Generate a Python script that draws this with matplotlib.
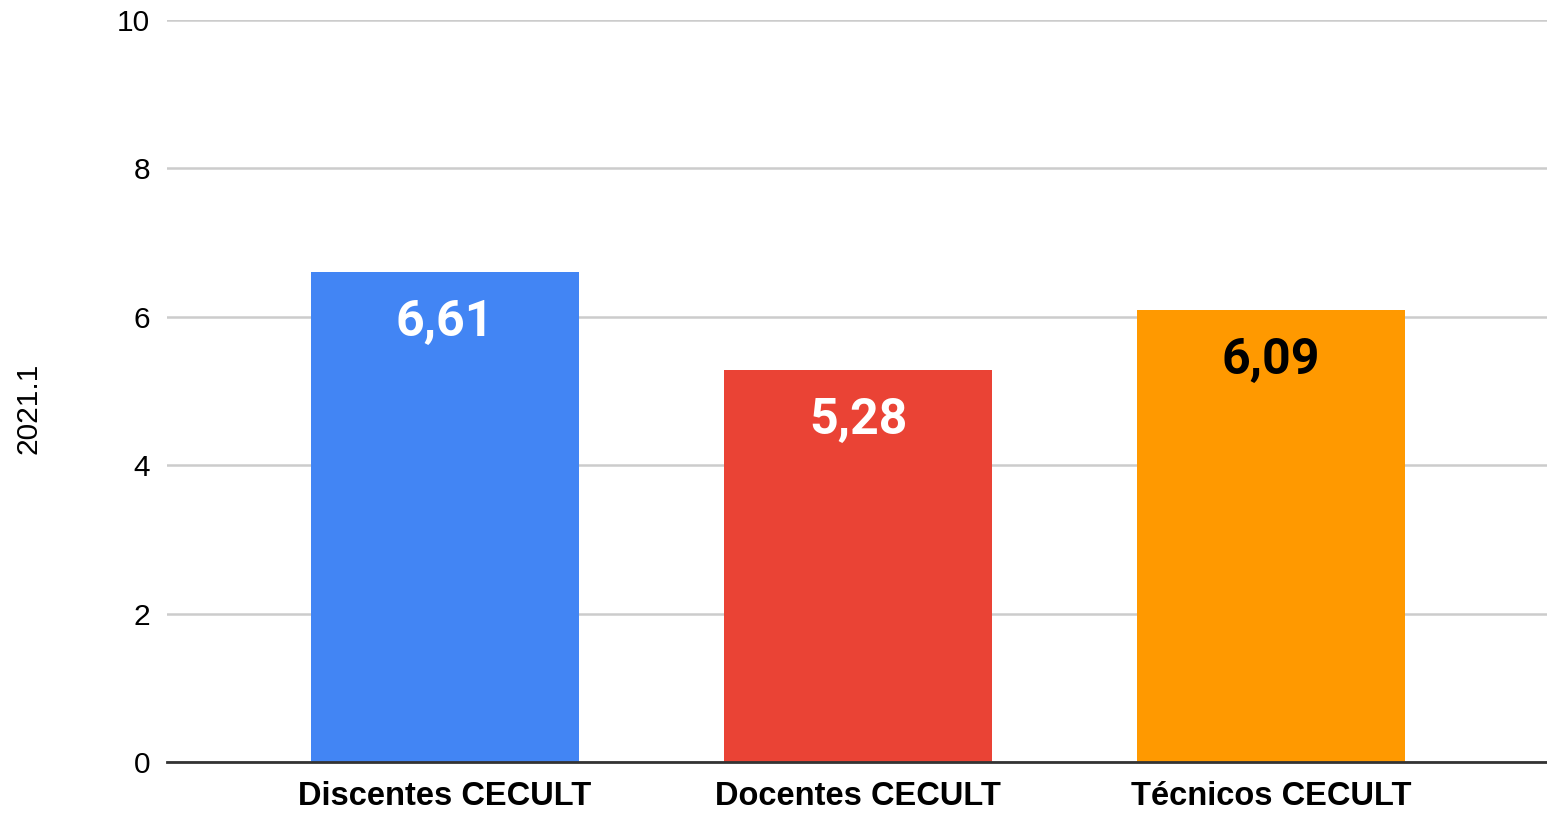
import matplotlib.pyplot as plt

# Chart data
categories = ["Discentes CECULT", "Docentes CECULT", "Técnicos CECULT"]
values = [6.61, 5.28, 6.09]
value_labels = ["6,61", "5,28", "6,09"]
bar_colors = ["#4285F4", "#EA4335", "#FF9900"]
label_colors = ["white", "white", "black"]
y_ticks = [0, 2, 4, 6, 8, 10]
y_label = "2021.1"

fig = plt.figure(figsize=(15.47, 8.13), dpi=100)
ax = fig.add_axes([167 / 1547, 51 / 813, 1380 / 1547, 742 / 813])

x = range(len(categories))
bars = ax.bar(x, values, width=0.65, color=bar_colors, zorder=3)

for bar, txt, col in zip(bars, value_labels, label_colors):
    ax.annotate(txt, (bar.get_x() + bar.get_width() / 2, bar.get_height()),
                xytext=(0, -36.5), textcoords="offset points",
                ha="center", va="center", fontsize=36, fontweight="bold",
                family="Roboto", color=col, zorder=4)

ax.set_xlim(-0.673, 2.668)
ax.set_ylim(0, 10)
ax.set_yticks(y_ticks)
ax.set_yticklabels([str(t) for t in y_ticks], family="Liberation Sans", fontsize=21.5)
ax.set_xticks(list(x))
ax.set_xticklabels(categories, family="Liberation Sans", fontsize=23.5, fontweight="bold")
ax.tick_params(axis="y", length=0, pad=12)
ax.tick_params(axis="x", length=0, pad=14)

ax.grid(axis="y", color="#cccccc", linewidth=1.8, zorder=0)
for s in ["top", "right", "left"]:
    ax.spines[s].set_visible(False)
ax.spines["bottom"].set_color("#333333")
ax.spines["bottom"].set_linewidth(2)
ax.spines["bottom"].set_zorder(5)

fig.text(28 / 1547, 1 - 408 / 813, y_label, rotation=90, ha="center", va="center",
         family="Liberation Sans", fontsize=21.5)

fig.savefig("out.png", dpi=100, facecolor="white")
